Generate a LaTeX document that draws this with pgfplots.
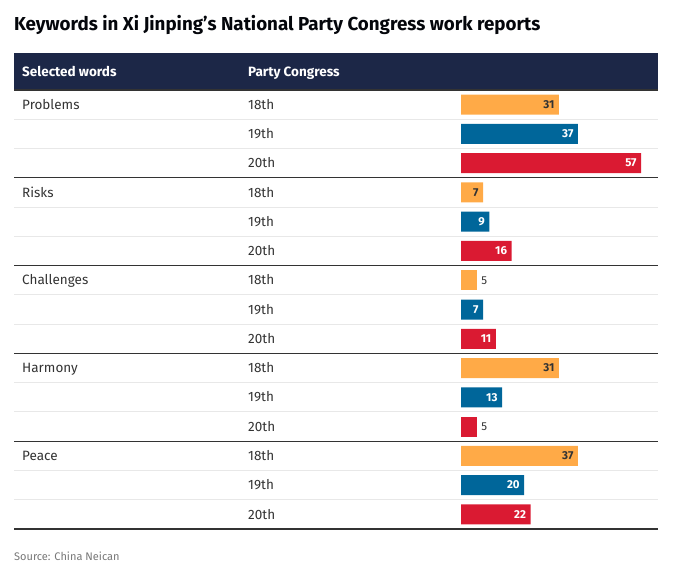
\documentclass[border=0pt]{standalone}
\usepackage{fontspec}
\setmainfont{Fira Sans}
\usepackage{pgfplots}
\pgfplotsset{compat=1.18}
\definecolor{corange}{HTML}{FFAA47}
\definecolor{cblue}{HTML}{00669A}
\definecolor{cred}{HTML}{DA1A32}
\definecolor{cnavy}{HTML}{1C2747}
\definecolor{cdark}{HTML}{333333}
\definecolor{clight}{HTML}{E8E8E8}
\definecolor{cgray}{HTML}{777777}
\begin{document}
\begin{tikzpicture}[x=1pt,y=1pt]
\useasboundingbox (-14,-46) rectangle (685,529);
% header
\fill[cnavy] (0,439) rectangle (644,476);
\node[anchor=base west,inner sep=0pt,text=white,font=\bfseries\fontsize{13.5}{16}\selectfont] at (8,452.5) {Selected words};
\node[anchor=base west,inner sep=0pt,text=white,font=\bfseries\fontsize{13.5}{16}\selectfont] at (234,452.5) {Party Congress};
\node[anchor=base west,inner sep=0pt,text=black!85!cnavy,font=\bfseries\fontsize{18.75}{22}\selectfont] at (0,498) {Keywords in Xi Jinping{\char"27}s National Party Congress work reports};
\node[anchor=base west,inner sep=0pt,text=cgray,font=\fontsize{11}{13}\selectfont] at (0,-32) {Source: China Neican};
% light row lines
\foreach \k in {1,2,4,5,7,8,10,11,13,14}{
  \draw[clight,line width=1pt] (0,{439-\k*29.2667}) -- (644,{439-\k*29.2667});
}
\foreach \k in {0,3,6,9,12,15}{
  \draw[cdark,line width=1.3pt] (0,{439-\k*29.2667}) -- (644,{439-\k*29.2667});
}
% row labels
\foreach \w [count=\g from 0] in {Problems,Risks,Challenges,Harmony,Peace}{
  \node[anchor=base west,inner sep=0pt,text=cdark,font=\fontsize{13.5}{16}\selectfont] at (8,{439-(3*\g+0.5)*29.2667-4.7}) {\w};
  \foreach \c [count=\j from 0] in {18th,19th,20th}{
    \node[anchor=base west,inner sep=0pt,text=cdark,font=\fontsize{13.5}{16}\selectfont] at (234,{439-(3*\g+\j+0.5)*29.2667-4.7}) {\c};
  }
}
\begin{axis}[
  at={(0,0)}, anchor=south west,
  scale only axis, width=644pt, height=439pt,
  xmin=-141.46, xmax=62.34,
  ymin=-0.5, ymax=14.5, y dir=reverse,
  axis lines=none, ticks=none,
  xbar, bar width=20pt, bar shift=0pt,
  /pgf/number format/assume math mode=true,
  nodes near coords,
  point meta=x,
  every node near coord/.append style={anchor=east, xshift=-1pt, font=\bfseries\fontsize{11.5}{13}\selectfont},
  outside/.style={nodes near coords style={anchor=west, xshift=2pt, text=cdark, font=\fontsize{11.5}{13}\selectfont}},
  clip=false,
]
\addplot[fill=corange, draw=none, nodes near coords style={text=cdark}] coordinates {(31,0) (7,3) (31,9) (37,12)};
\addplot[fill=corange, draw=none, outside] coordinates {(5,6)};
\addplot[fill=cblue, draw=none, nodes near coords style={text=white}] coordinates {(37,1) (9,4) (7,7) (13,10) (20,13)};
\addplot[fill=cred, draw=none, nodes near coords style={text=white}] coordinates {(57,2) (16,5) (11,8) (22,14)};
\addplot[fill=cred, draw=none, outside] coordinates {(5,11)};
\end{axis}
\end{tikzpicture}
\end{document}
